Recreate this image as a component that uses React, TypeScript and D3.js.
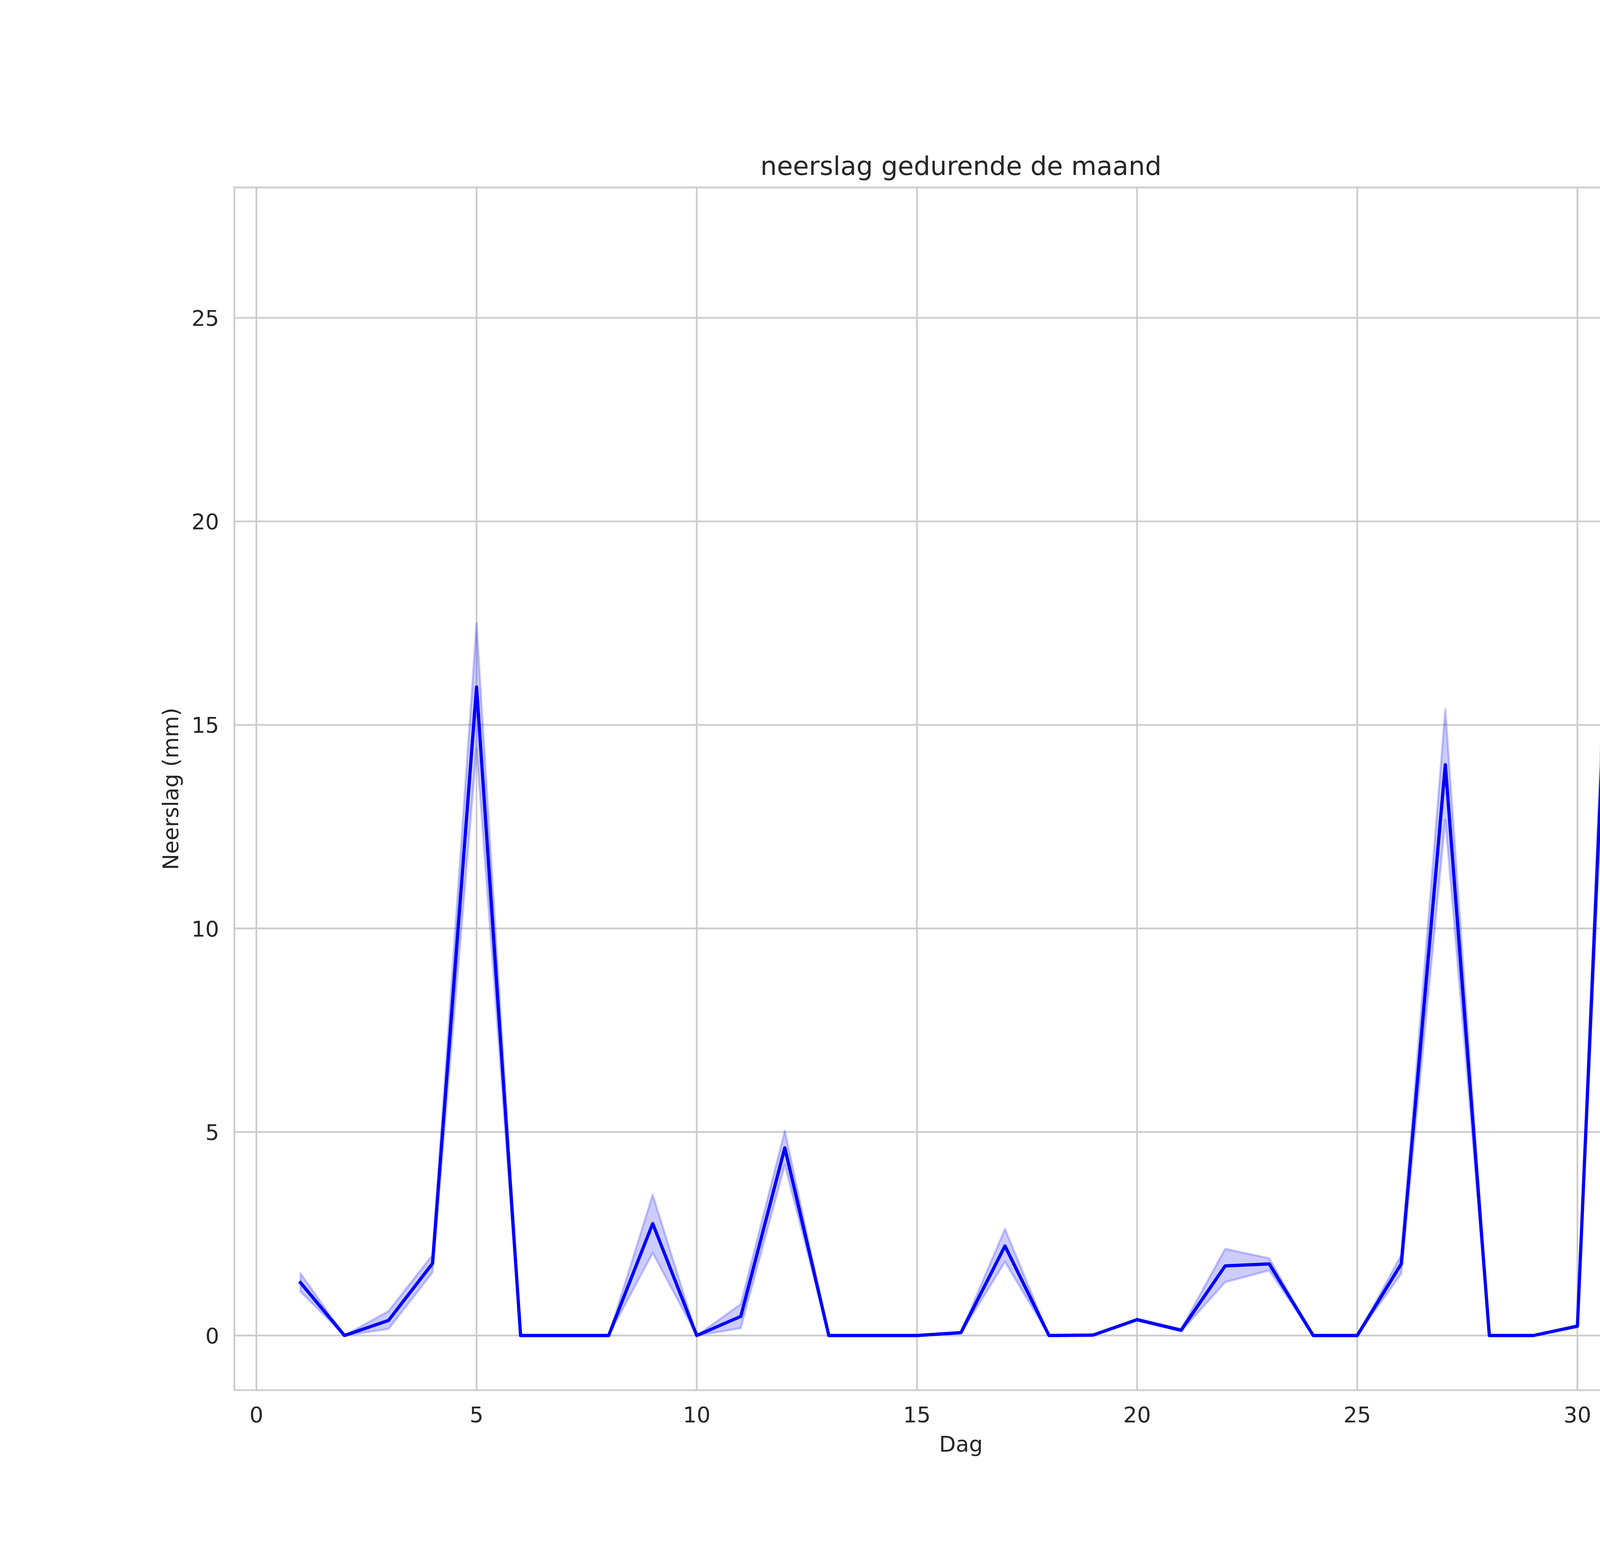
import React from 'react';
import * as d3 from 'd3';

// daily precipitation (mm), mean and 95% CI band
const days = [1, 2, 3, 4, 5, 6, 7, 8, 9, 10, 11, 12, 13, 14, 15, 16, 17, 18, 19, 20, 21, 22, 23, 24, 25, 26, 27, 28, 29, 30, 31];
const meanMm = [1.3, 0, 0.37, 1.77, 15.93, 0, 0, 0, 2.75, 0, 0.47, 4.61, 0, 0, 0, 0.07, 2.2, 0, 0.01, 0.39, 0.13, 1.71, 1.76, 0, 0, 1.76, 14.02, 0, 0, 0.23, 25.28];
const lowerMm = [1.08, 0, 0.16, 1.55, 14.41, 0, 0, 0, 2.03, 0, 0.18, 4.19, 0, 0, 0, 0.05, 1.81, 0, 0, 0.37, 0.1, 1.31, 1.6, 0, 0, 1.52, 12.67, 0, 0, 0.2, 23.69];
const upperMm = [1.53, 0, 0.6, 1.98, 17.5, 0, 0, 0, 3.46, 0, 0.77, 5.03, 0, 0, 0, 0.09, 2.62, 0, 0.02, 0.41, 0.16, 2.13, 1.9, 0, 0, 1.98, 15.39, 0, 0, 0.26, 26.86];
const xTicks = [0, 5, 10, 15, 20, 25, 30];
const yTicks = [0, 5, 10, 15, 20, 25];

const W = 4800, H = 4000;
const margin = { top: 480, right: 480, bottom: 440, left: 600 };
const FONT = '"DejaVu Sans", sans-serif';
const TEXT = '#262626';
const GRID = '#cccccc';

export default function App() {
  const iw = W - margin.left - margin.right;
  const ih = H - margin.top - margin.bottom;

  const x0 = d3.min(days)!, x1 = d3.max(days)!;
  const xPad = (x1 - x0) * 0.05;
  const x = d3.scaleLinear().domain([x0 - xPad, x1 + xPad]).range([0, iw]);

  const yMin = Math.min(d3.min(lowerMm)!, 0), yMax = d3.max(upperMm)!;
  const yPad = (yMax - yMin) * 0.05;
  const y = d3.scaleLinear().domain([yMin - yPad, yMax + yPad]).range([ih, 0]);

  const idx = days.map((_, i) => i);
  const line = d3.line<number>().x(i => x(days[i])).y(i => y(meanMm[i]));
  const band = d3.area<number>().x(i => x(days[i])).y0(i => y(lowerMm[i])).y1(i => y(upperMm[i]));

  return (
    <>
      <style>{'html,body{margin:0;padding:0;background:#fff}'}</style>
      <svg width={W} height={H} viewBox={`0 0 ${W} ${H}`} style={{ display: 'block' }} fontFamily={FONT}>
        <rect width={W} height={H} fill="#fff" />
        <g transform={`translate(${margin.left},${margin.top})`}>
          {xTicks.map(t => (
            <line key={`gx${t}`} x1={x(t)} x2={x(t)} y1={0} y2={ih} stroke={GRID} strokeWidth={4.4} />
          ))}
          {yTicks.map(t => (
            <line key={`gy${t}`} x1={0} x2={iw} y1={y(t)} y2={y(t)} stroke={GRID} strokeWidth={4.4} />
          ))}
          <path d={band(idx)!} fill="rgba(0,0,255,0.2)" stroke="rgba(0,0,255,0.2)" strokeWidth={5.6} strokeLinejoin="round" />
          <path d={line(idx)!} fill="none" stroke="#0000ff" strokeWidth={8.3} strokeLinejoin="round" strokeLinecap="square" />
          <rect x={0} y={0} width={iw} height={ih} fill="none" stroke={GRID} strokeWidth={4.4} />
          {xTicks.map(t => (
            <text key={`tx${t}`} x={x(t)} y={ih + 82} textAnchor="middle" fontSize={55.6} fill={TEXT}>{t}</text>
          ))}
          {yTicks.map(t => (
            <text key={`ty${t}`} x={-39} y={y(t)} dy="0.36em" textAnchor="end" fontSize={55.6} fill={TEXT}>{t}</text>
          ))}
          <text x={iw / 2} y={ih + 157} textAnchor="middle" fontSize={55.6} fill={TEXT}>Dag</text>
          <text transform={`translate(${456 - margin.left},${ih / 2}) rotate(-90)`} textAnchor="middle" fontSize={55.6} fill={TEXT}>Neerslag (mm)</text>
          <text x={iw / 2} y={-32} textAnchor="middle" fontSize={66.7} fill={TEXT}>neerslag gedurende de maand</text>
        </g>
      </svg>
    </>
  );
}
